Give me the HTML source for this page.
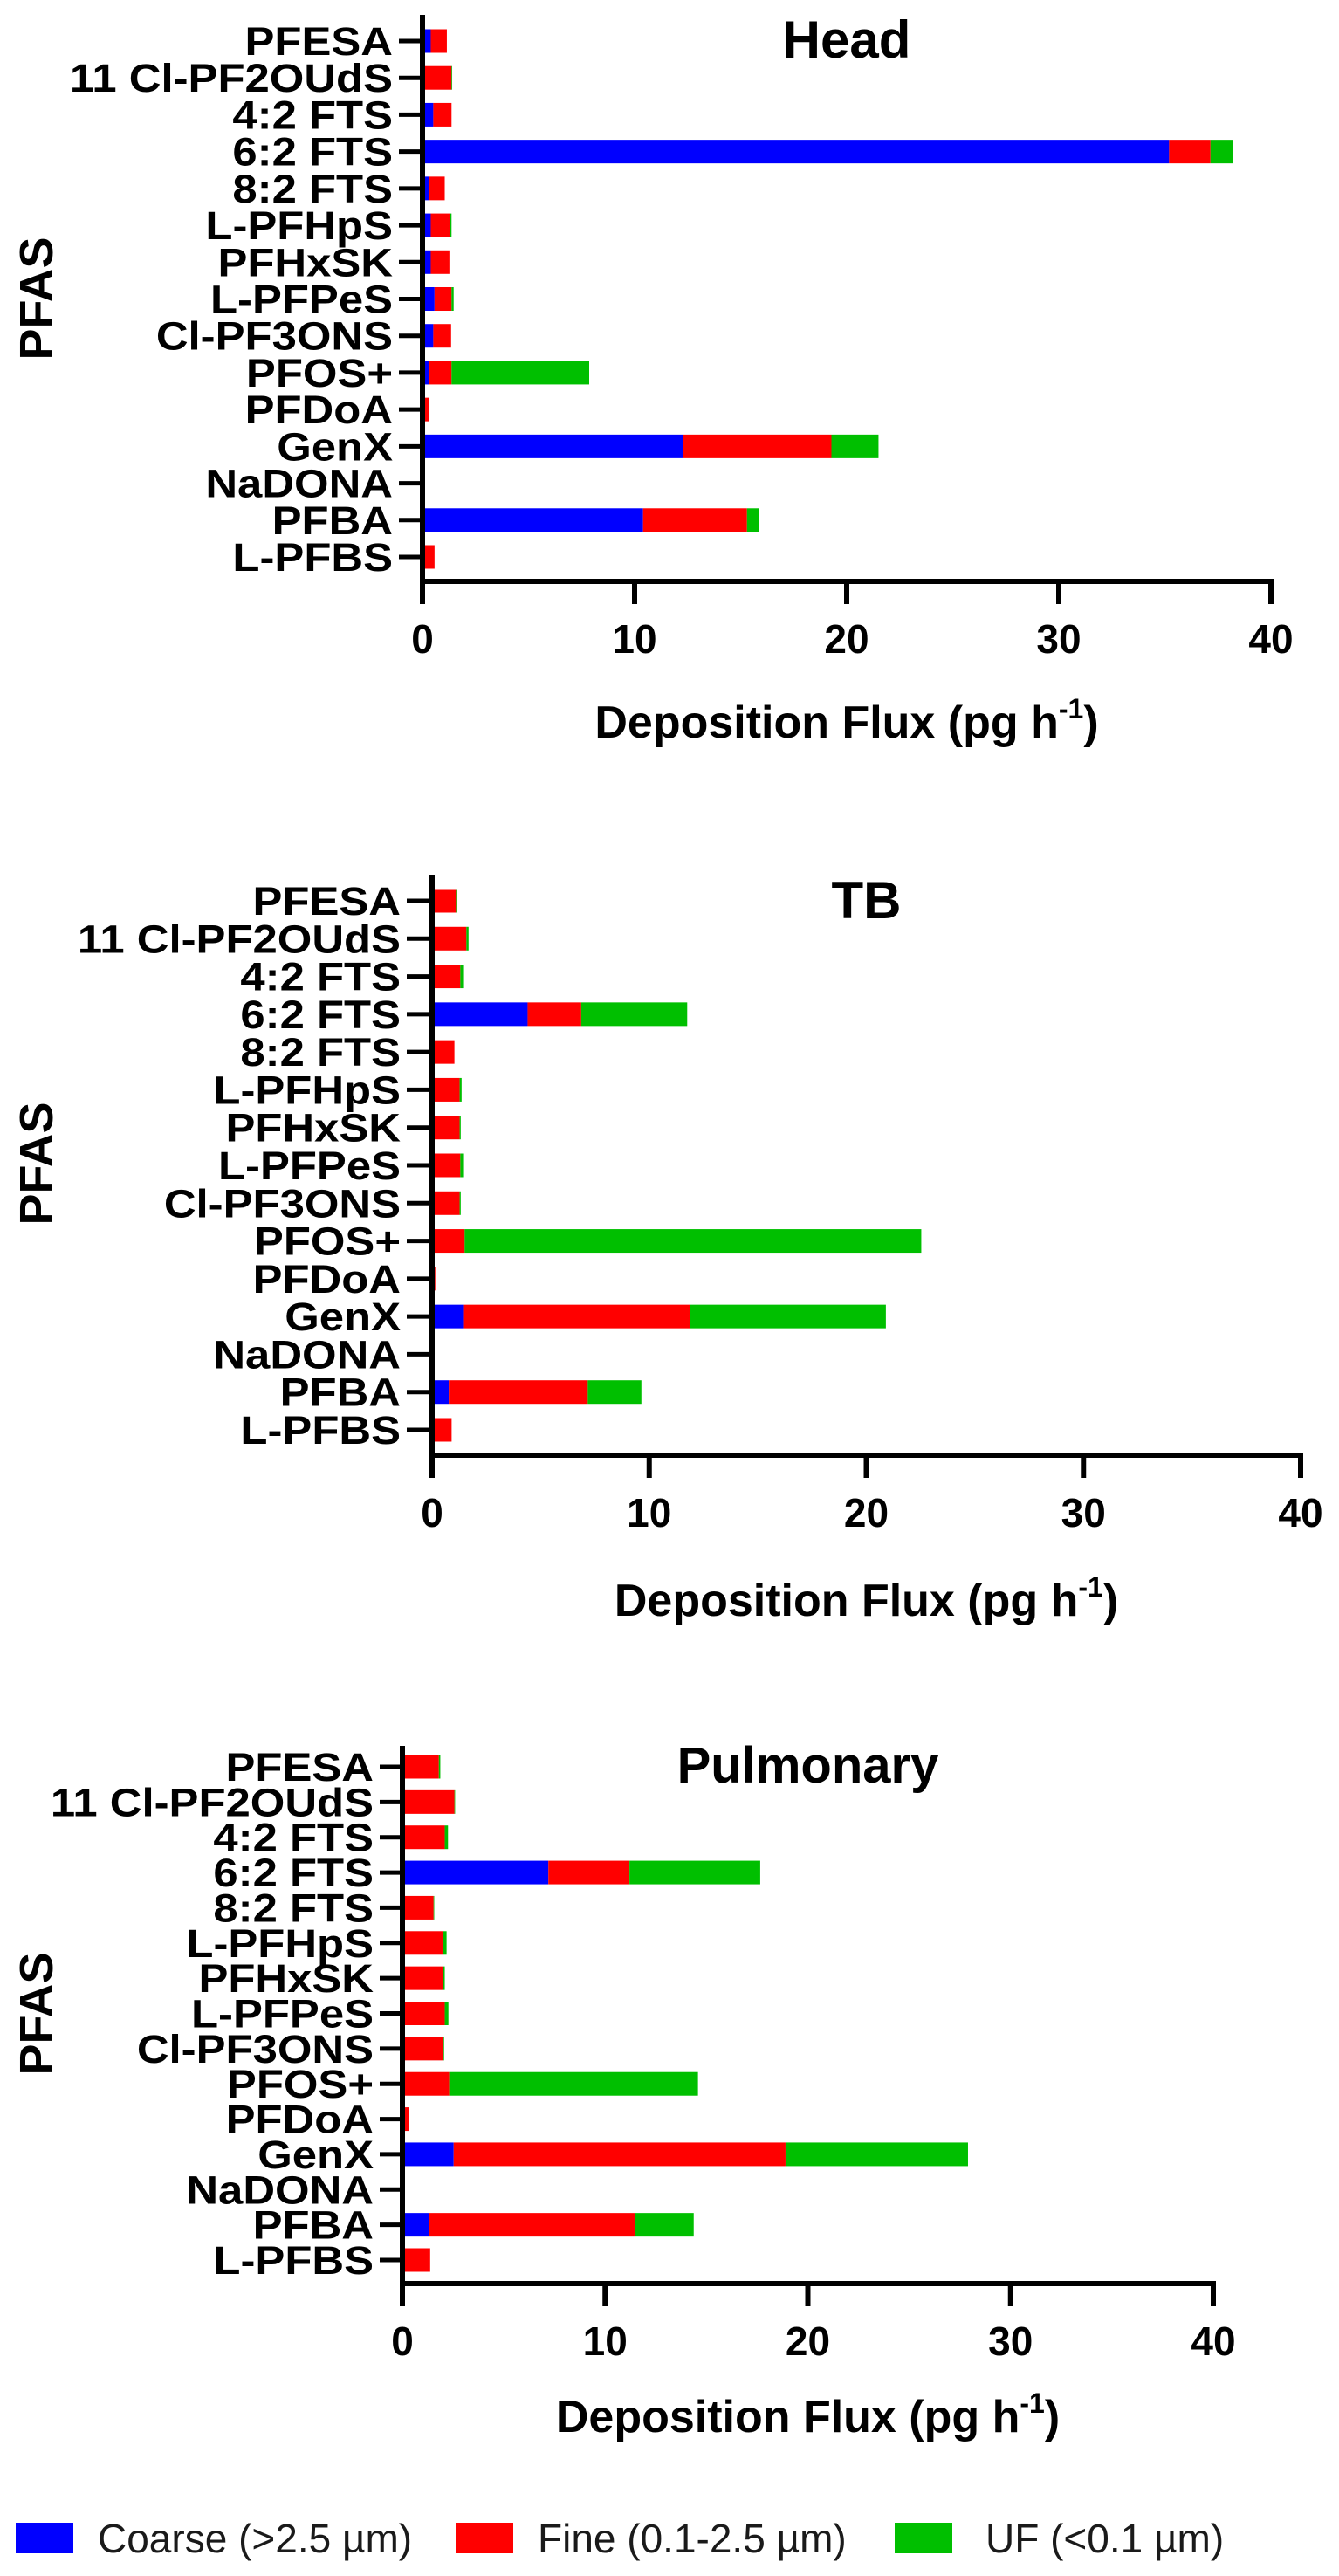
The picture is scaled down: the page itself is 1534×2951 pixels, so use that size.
<!DOCTYPE html>
<html><head><meta charset="utf-8"><title>PFAS deposition flux</title>
<style>
html,body{margin:0;padding:0;background:#fff;}
svg{display:block;font-family:"Liberation Sans",Arial,sans-serif;}
</style></head>
<body>
<svg id="chart" xmlns="http://www.w3.org/2000/svg" width="1534" height="2951" viewBox="0 0 1534 2951"></svg>
<script>
const categories = ["PFESA","11 Cl-PF2OUdS","4:2 FTS","6:2 FTS","8:2 FTS","L-PFHpS","PFHxSK","L-PFPeS","Cl-PF3ONS","PFOS+","PFDoA","GenX","NaDONA","PFBA","L-PFBS"];
const xTicks = [0,10,20,30,40];
const tickLabels = ["0","10","20","30","40"];
const seriesNames = ["Coarse (>2.5 µm)","Fine (0.1-2.5 µm)","UF (<0.1 µm)"];
// Head
const headCoarse = [0.39,0,0.51,35.2,0.33,0.39,0.39,0.57,0.51,0.33,0,12.3,0,10.4,0];
const headFine   = [0.76,1.37,0.86,1.95,0.72,0.91,0.88,0.80,0.84,1.04,0.33,6.98,0,4.9,0.57];
const headUF     = [0,0.03,0,1.05,0,0.07,0,0.10,0,6.49,0,2.22,0,0.56,0];
// TB
const tbCoarse = [0,0,0,4.4,0,0,0,0,0,0,0,1.47,0,0.77,0];
const tbFine   = [1.1,1.58,1.3,2.47,1.03,1.27,1.27,1.3,1.27,1.5,0.15,10.4,0,6.4,0.9];
const tbUF     = [0.03,0.1,0.17,4.88,0,0.09,0.05,0.17,0.05,21.03,0,9.03,0,2.47,0];
// Pulmonary
const puCoarse = [0,0,0,7.2,0,0,0,0,0,0,0,2.53,0,1.3,0];
const puFine   = [1.8,2.57,2.09,4.0,1.54,1.98,1.98,2.09,2.03,2.31,0.33,16.37,0,10.18,1.37];
const puUF     = [0.07,0.03,0.16,6.45,0.03,0.2,0.11,0.18,0.03,12.27,0,9.0,0,2.89,0];

const colors = ["#0000ff","#ff0000","#00bf00"];
const NS = "http://www.w3.org/2000/svg";
const svg = document.getElementById("chart");
function el(tag, attrs, parent){
  const e = document.createElementNS(NS, tag);
  for (const k in attrs) e.setAttribute(k, attrs[k]);
  (parent||svg).appendChild(e);
  return e;
}
const panels = [
  {key:"head", title:"Head", data:[headCoarse,headFine,headUF], x0:484, x40:1456, row0:47, rowN:638, axisTop:17, axisY:666, titleY:66, titleSize:60, labelRight:450, pfasY:342, xtitleY:845},
  {key:"tb", title:"TB", data:[tbCoarse,tbFine,tbUF], x0:495, x40:1490, row0:1032, rowN:1638, axisTop:1002, axisY:1667, titleY:1052, titleSize:60, labelRight:459, pfasY:1333, xtitleY:1851},
  {key:"pulmonary", title:"Pulmonary", data:[puCoarse,puFine,puUF], x0:461, x40:1390, row0:2024, rowN:2589, axisTop:2000, axisY:2616, titleY:2042, titleSize:58, labelRight:428, pfasY:2307, xtitleY:2786}
];
panels.forEach(p=>{
  const g = el("g",{});
  
  
  const xs = v => p.x0 + (v/40)*(p.x40-p.x0);
  const step = (p.rowN-p.row0)/(categories.length-1);
  const ys = i => p.row0 + i*step;
  const barH = 27;
  categories.forEach((c,i)=>{
    let acc = 0;
    p.data.forEach((series,s)=>{
      const v = series[i];
      if (v<=0) return;
      const r = el("rect",{x:xs(acc), y:ys(i)-barH/2, width:xs(acc+v)-xs(acc), height:barH, fill:colors[s]}, g);
      
      
      acc += v;
    });
  });
  const ya = el("line",{x1:p.x0, y1:p.axisTop, x2:p.x0, y2:p.axisY+26, stroke:"#000","stroke-width":6}, g);
  
  
  const xa = el("line",{x1:p.x0-3, y1:p.axisY, x2:p.x40+3, y2:p.axisY, stroke:"#000","stroke-width":6}, g);
  
  
  xTicks.forEach((t,k)=>{
    const tl = el("line",{x1:xs(t), y1:p.axisY, x2:xs(t), y2:p.axisY+26, stroke:"#000","stroke-width":6}, g);
    
    
    const tx = el("text",{x:xs(t), y:p.axisY+82, "text-anchor":"middle","font-size":46,"font-weight":"bold",fill:"#000"}, g);
    tx.textContent = tickLabels[k];
    
    
  });
  categories.forEach((c,i)=>{
    const tk = el("line",{x1:p.labelRight+7, y1:ys(i), x2:p.x0, y2:ys(i), stroke:"#000","stroke-width":5}, g);
    
    
    const t = el("text",{transform:`translate(${p.labelRight},${ys(i)+16}) scale(1.13,1)`, "text-anchor":"end","font-size":45,"font-weight":"bold",fill:"#000"}, g);
    t.textContent = c;
    
    
  });
  const tt = el("text",{x:xs(20), y:p.titleY, "text-anchor":"middle","font-size":p.titleSize,"font-weight":"bold",fill:"#000"}, g);
  tt.textContent = p.title;
  
  
  const yl = el("text",{transform:`translate(60,${p.pfasY}) rotate(-90)`, "text-anchor":"middle","font-size":54,"font-weight":"bold",fill:"#000"}, g);
  yl.textContent = "PFAS";
  
  
  const xt = el("text",{x:xs(20), y:p.xtitleY, "text-anchor":"middle","font-size":52,"font-weight":"bold",fill:"#000"}, g);
  
  
  const s1 = el("tspan",{}, xt); s1.textContent = "Deposition Flux (pg h";
  const s2 = el("tspan",{"font-size":32, dy:-22}, xt); s2.textContent = "-1";
  const s3 = el("tspan",{dy:22}, xt); s3.textContent = ")";
});
const legendSwatchX = [18,522,1025];
const legendTextX = [112,616,1129];
const lg = el("g",{});


seriesNames.forEach((n,s)=>{
  const r = el("rect",{x:legendSwatchX[s], y:2890, width:66, height:35, fill:colors[s]}, lg);
  
  
  const t = el("text",{x:legendTextX[s], y:2924, "font-size":46, fill:"#1a1a1a"}, lg);
  t.textContent = n;
  
  
});
</script>
</body></html>
